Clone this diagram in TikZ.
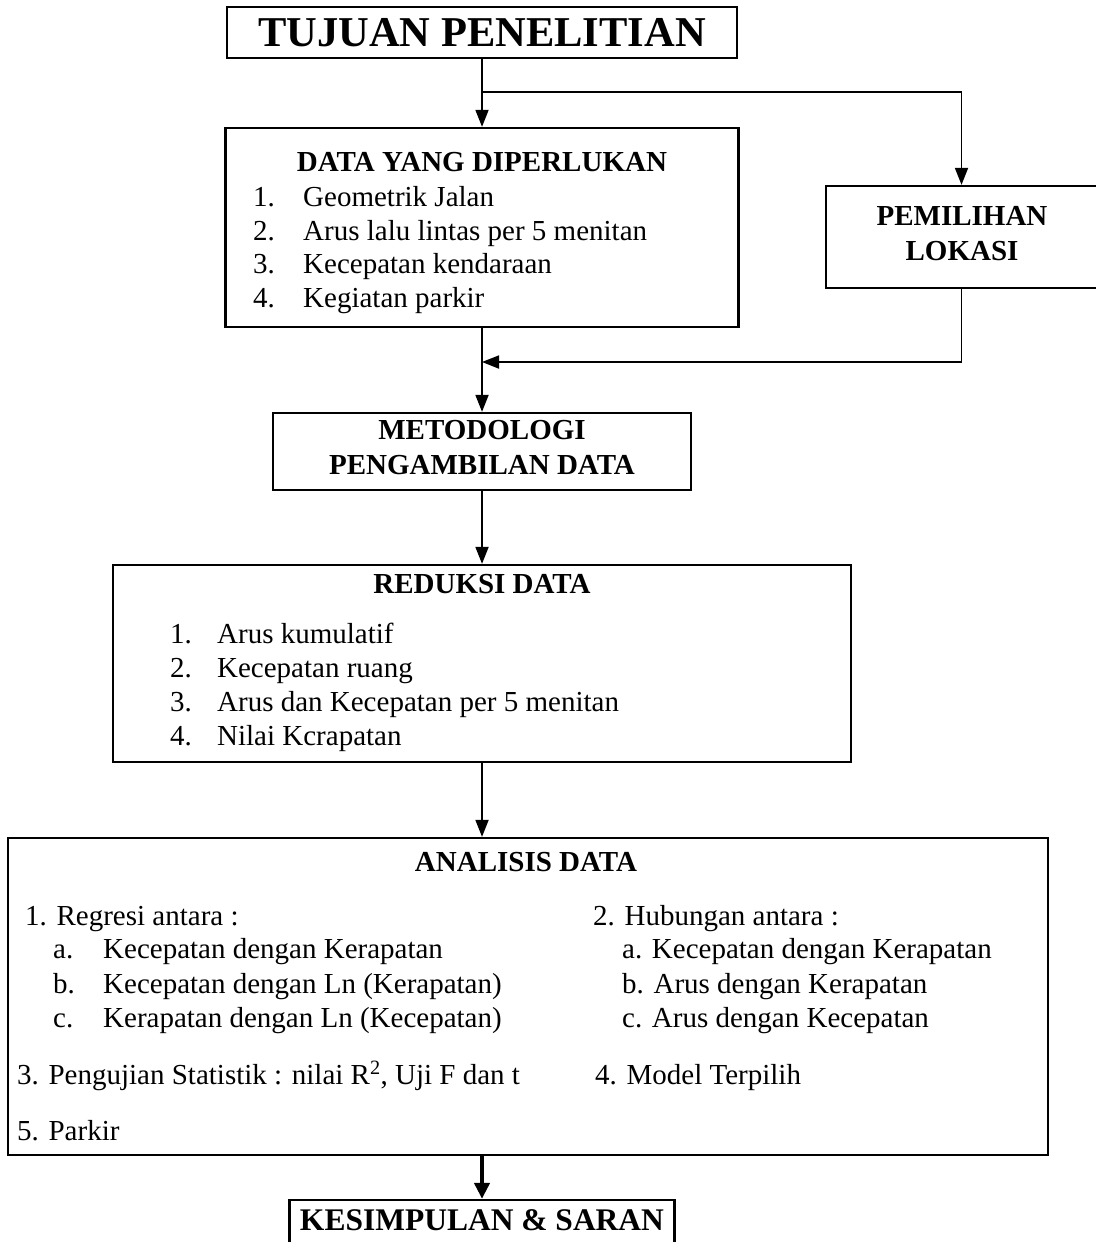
\documentclass[tikz,border=0pt]{standalone}
\usepackage{fontspec}
\setmainfont{Liberation Serif}
\usetikzlibrary{arrows.meta}
\begin{document}
\begin{tikzpicture}[x=1pt,y=-1pt,
  box/.style={draw, line width=2.3pt, inner sep=0pt},
  arr/.style={line width=1.8pt, -{Triangle[length=17pt,width=13pt]}},
  rg/.style={font=\fontsize{29}{34}\selectfont, inner sep=0pt, anchor=west,
             text height=20pt, text depth=0pt},
  bd/.style={font=\fontsize{29}{35}\selectfont\bfseries, inner sep=0pt, align=center},
]
\useasboundingbox (0,0) rectangle (1095,1242);

% boxes
\node[box, minimum width=510pt, minimum height=51pt,
      font=\fontsize{42.5}{46}\selectfont\bfseries] (tuj) at (482,32.5) {TUJUAN PENELITIAN};
\node[box, minimum width=513pt, minimum height=199pt] (data) at (482,227.5) {};
\node[box, minimum width=271pt, minimum height=102pt] (pem) at (961.5,237) {};
\node[box, minimum width=418pt, minimum height=77pt] (met) at (482,451.5) {};
\node[box, minimum width=738pt, minimum height=197pt] (red) at (482,663.5) {};
\node[box, minimum width=1040pt, minimum height=317pt] (ana) at (528,996.5) {};
\node[box, minimum width=385pt, minimum height=62pt] (kes) at (482,1231) {};

% DATA YANG DIPERLUKAN
\node[bd] (datat) at (482,162) {DATA YANG DIPERLUKAN};
\node[rg] (d1) at (253,196) {\makebox[50pt][l]{1.}Geometrik Jalan};
\node[rg] (d2) at (253,230) {\makebox[50pt][l]{2.}Arus lalu lintas per 5 menitan};
\node[rg] (d3) at (253,263) {\makebox[50pt][l]{3.}Kecepatan kendaraan};
\node[rg] (d4) at (253,297) {\makebox[50pt][l]{4.}Kegiatan parkir};

% PEMILIHAN LOKASI
\node[bd] (pemt) at (962,234) {PEMILIHAN\\LOKASI};

% METODOLOGI
\node[bd] (mett) at (482,448) {METODOLOGI\\PENGAMBILAN DATA};

% REDUKSI DATA
\node[bd] (redt) at (482,584) {REDUKSI DATA};
\node[rg] (r1) at (170,633) {\makebox[47pt][l]{1.}Arus kumulatif};
\node[rg] (r2) at (170,667) {\makebox[47pt][l]{2.}Kecepatan ruang};
\node[rg] (r3) at (170,701) {\makebox[47pt][l]{3.}Arus dan Kecepatan per 5 menitan};
\node[rg] (r4) at (170,735) {\makebox[47pt][l]{4.}Nilai Kcrapatan};

% ANALISIS DATA
\node[bd] (anat) at (526,862) {ANALISIS DATA};
\node[rg] (a1) at (25,915) {1. Regresi antara :};
\node[rg] (a1a) at (53,948) {\makebox[50pt][l]{a.}Kecepatan dengan Kerapatan};
\node[rg] (a1b) at (53,983) {\makebox[50pt][l]{b.}Kecepatan dengan Ln (Kerapatan)};
\node[rg] (a1c) at (53,1017) {\makebox[50pt][l]{c.}Kerapatan dengan Ln (Kecepatan)};
\node[rg] (a3) at (17,1074) {3. Pengujian Statistik : nilai R\textsuperscript{2}, Uji F dan t};
\node[rg] (a5) at (17,1130) {5. Parkir};
\node[rg] (a2) at (593,915) {2. Hubungan antara :};
\node[rg] (a2a) at (622,948) {a. Kecepatan dengan Kerapatan};
\node[rg] (a2b) at (622,983) {b. Arus dengan Kerapatan};
\node[rg] (a2c) at (622,1017) {c. Arus dengan Kecepatan};
\node[rg] (a4) at (595,1074) {4. Model Terpilih};

% KESIMPULAN
\node[bd, font=\fontsize{31.5}{36}\selectfont\bfseries] (kest) at (482,1220) {KESIMPULAN \& SARAN};

% connectors
\coordinate (br) at (482,92);
\coordinate (mg) at (482,362);
\draw[arr] (tuj.south) -- (data.north);
\draw[arr] (br) -| (pem.north);
\draw[arr] (pem.south) |- (mg);
\draw[arr] (data.south) -- (met.north);
\draw[arr] (met.south) -- (red.north);
\draw[arr] (red.south) -- (red.south |- ana.north);
\draw[line width=4pt, -{Triangle[length=16pt,width=15pt]}] (red.south |- ana.south) -- (kes.north);
\end{tikzpicture}
\end{document}
